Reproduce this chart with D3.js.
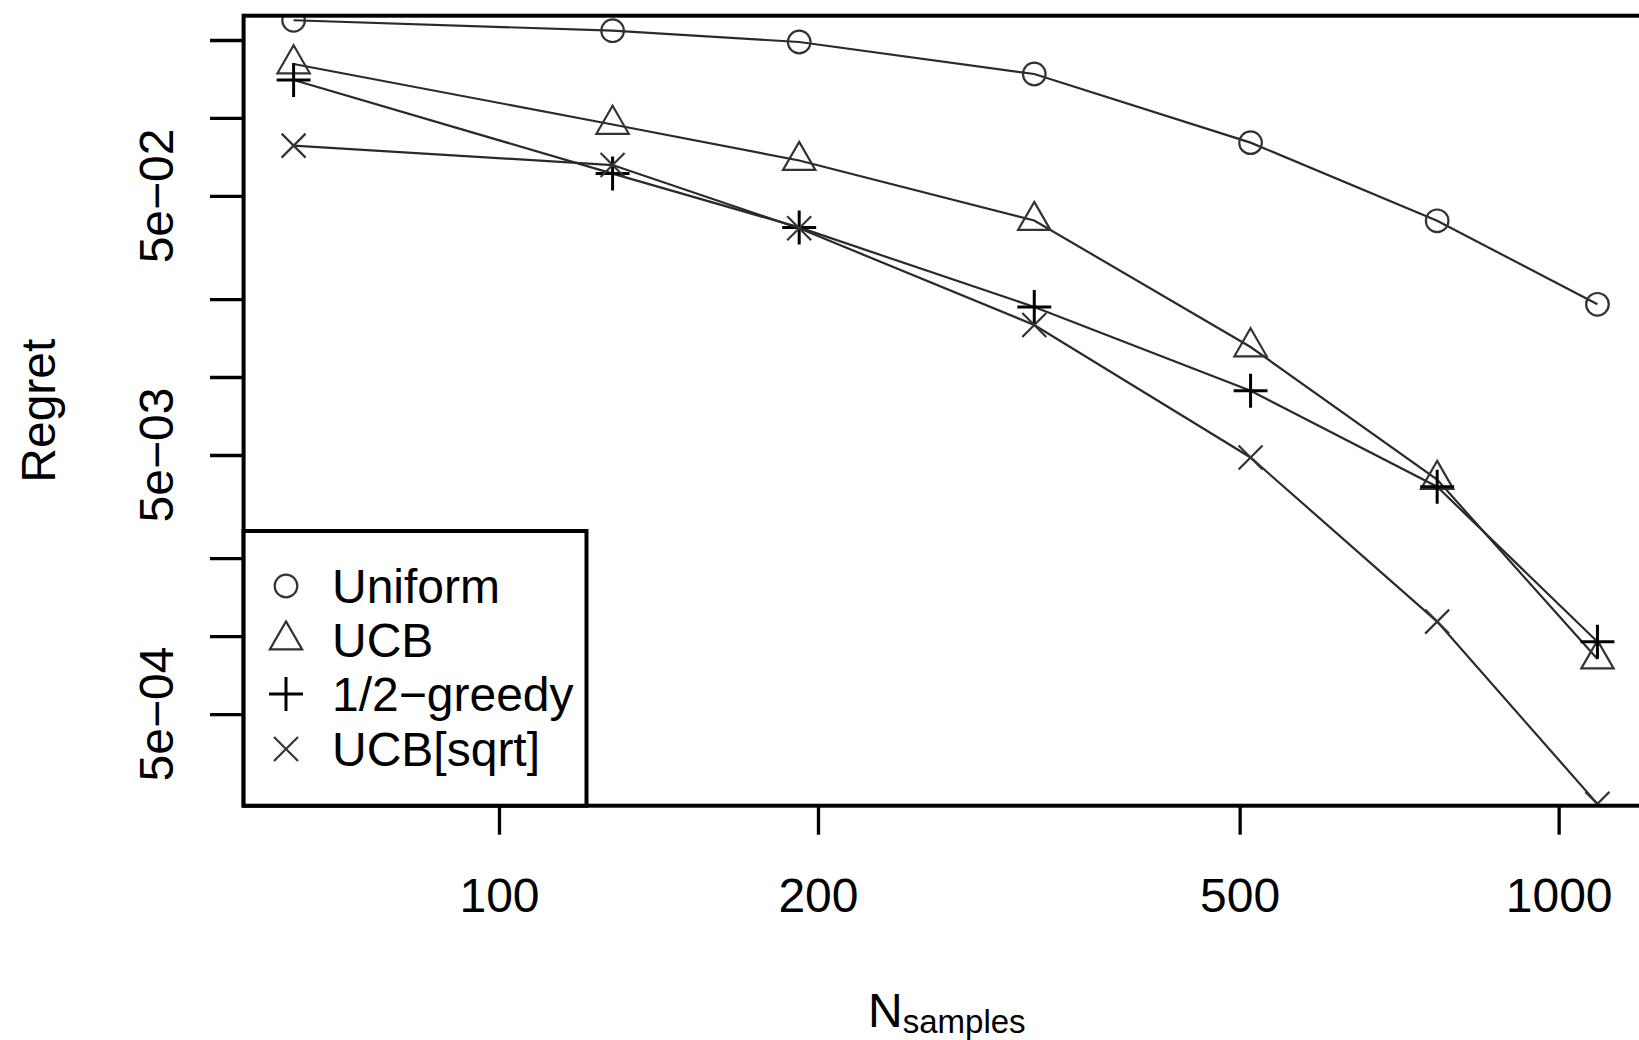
<!DOCTYPE html>
<html>
<head>
<meta charset="utf-8">
<script src="https://cdn.jsdelivr.net/npm/d3@7"></script>
<style>
  html, body { margin: 0; padding: 0; background: #fff; }
  svg { display: block; }
  text { font-family: "Liberation Sans", Arial, sans-serif; fill: #000; }
</style>
</head>
<body>
<svg id="chart" width="1639" height="1040"></svg>
<script>
// ---- data ----
const nSamples = [64, 128, 192, 320, 512, 768, 1088];
const uniform  = [0.2384, 0.2172, 0.1965, 0.1478, 0.0803, 0.0401, 0.01909];
const ucb      = [0.1616, 0.0944, 0.0685, 0.0402, 0.01306, 0.00402, 0.000815];
const greedy   = [0.1401, 0.0610, 0.0378, 0.01864, 0.00885, 0.00377, 0.000951];
const ucbSqrt  = [0.0782, 0.0658, 0.0375, 0.01588, 0.00489, 0.001137, 0.000225];
const seriesNames = ["Uniform", "UCB", "1/2\u2212greedy", "UCB[sqrt]"];
const seriesShapes = ["circle", "triangle", "plus", "cross"];
const xTickValues = [100, 200, 500, 1000];
const yTickValues = [0.2, 0.1, 0.05, 0.02, 0.01, 0.005, 0.002, 0.001, 0.0005];
const yLabelValues = [0.05, 0.005, 0.0005];
const yLabelTexts = ["5e\u221202", "5e\u221203", "5e\u221204"];

const seriesValues = [uniform, ucb, greedy, ucbSqrt];

// ---- layout ----
const plot = { left: 243.6, right: 1650, top: 15.7, bottom: 805.7 };
const svg = d3.select("#chart");

const x = d3.scaleLog().domain([57.41, 1219.6]).range([plot.left, plot.right]);
const y = d3.scaleLog().domain([2.214e-4, 0.2482]).range([plot.bottom, plot.top]);

// clip
svg.append("defs").append("clipPath").attr("id", "clip")
  .append("rect")
  .attr("x", plot.left).attr("y", plot.top)
  .attr("width", plot.right - plot.left).attr("height", plot.bottom - plot.top);

// marker path generators
function markerPath(shape) {
  const u = 12;
  if (shape === "circle") {
    const r = 11.3;
    return `M${r},0A${r},${r} 0 1,1 ${-r},0A${r},${r} 0 1,1 ${r},0Z`;
  }
  if (shape === "triangle") {
    const r = 1.5551 * u, xc = 1.3468 * u, yc = 0.7776 * u;
    return `M0,${-r}L${xc},${yc}L${-xc},${yc}Z`;
  }
  if (shape === "plus") {
    const h = 1.4142 * u;
    return `M${-h},0L${h},0M0,${-h}L0,${h}`;
  }
  // cross
  return `M${-u},${-u}L${u},${u}M${-u},${u}L${u},${-u}`;
}
function markerStyle(sel, shape) {
  sel.attr("fill", "none")
     .attr("stroke", shape === "plus" ? "#000" : "#333")
     .attr("stroke-width", shape === "plus" ? 3 : 2.2);
}

// ---- series ----
const g = svg.append("g").attr("clip-path", "url(#clip)");
const line = d3.line().x(d => x(d[0])).y(d => y(d[1]));

seriesValues.forEach((vals, i) => {
  const pts = nSamples.map((n, j) => [n, vals[j]]);
  g.append("path").datum(pts)
    .attr("d", line)
    .attr("fill", "none")
    .attr("stroke", "#2a2a2a")
    .attr("stroke-width", 2.2);
  g.selectAll(null).data(pts).enter().append("path")
    .attr("transform", d => `translate(${x(d[0])},${y(d[1])})`)
    .attr("d", markerPath(seriesShapes[i]))
    .call(markerStyle, seriesShapes[i]);
});

// ---- axes ----
const xAxis = d3.axisBottom(x).tickValues(xTickValues)
  .tickFormat(d3.format("d")).tickSize(29).tickPadding(40);
const xg = svg.append("g").attr("transform", `translate(0,${plot.bottom})`).call(xAxis);
xg.select(".domain").remove();
xg.selectAll(".tick line").attr("stroke", "#000").attr("stroke-width", 3.3);
xg.selectAll(".tick text").attr("font-size", 48).attr("dy", null)
  .attr("y", 106).attr("font-family", "'Liberation Sans', Arial, sans-serif");

const yAxis = d3.axisLeft(y).tickValues(yTickValues).tickFormat("").tickSize(33.6);
const yg = svg.append("g").attr("transform", `translate(${plot.left},0)`).call(yAxis);
yg.select(".domain").remove();
yg.selectAll(".tick line").attr("stroke", "#000").attr("stroke-width", 3.3);

// y labels (rotated)
svg.append("g").selectAll("text").data(yLabelValues).enter().append("text")
  .attr("transform", (d) => `translate(173,${y(d)}) rotate(-90)`)
  .attr("text-anchor", "middle")
  .attr("font-size", 48)
  .text((d, i) => yLabelTexts[i]);

// plot box
svg.append("rect")
  .attr("x", plot.left).attr("y", plot.top)
  .attr("width", plot.right - plot.left).attr("height", plot.bottom - plot.top)
  .attr("fill", "none").attr("stroke", "#000").attr("stroke-width", 4);

// axis titles
svg.append("text")
  .attr("transform", `translate(55,${(plot.top + plot.bottom) / 2}) rotate(-90)`)
  .attr("text-anchor", "middle").attr("font-size", 48)
  .text("Regret");

const xt = svg.append("text").attr("x", (plot.left + plot.right) / 2).attr("y", 1027)
  .attr("text-anchor", "middle").attr("font-size", 48);
xt.append("tspan").text("N");
xt.append("tspan").attr("font-size", 33).attr("dy", 6).text("samples");

// ---- legend ----
const leg = { left: 243.6, top: 531, right: 586.5, bottom: 805.7 };
svg.append("rect")
  .attr("x", leg.left).attr("y", leg.top)
  .attr("width", leg.right - leg.left).attr("height", leg.bottom - leg.top)
  .attr("fill", "#fff").attr("stroke", "#000").attr("stroke-width", 4);

const legRowY = [586, 640, 694, 749];
const lg = svg.append("g");
seriesNames.forEach((name, i) => {
  lg.append("path")
    .attr("transform", `translate(286,${legRowY[i]})`)
    .attr("d", markerPath(seriesShapes[i]))
    .call(markerStyle, seriesShapes[i]);
  lg.append("text")
    .attr("x", 332).attr("y", legRowY[i] + 17)
    .attr("font-size", 48)
    .text(name);
});
</script>
</body>
</html>
